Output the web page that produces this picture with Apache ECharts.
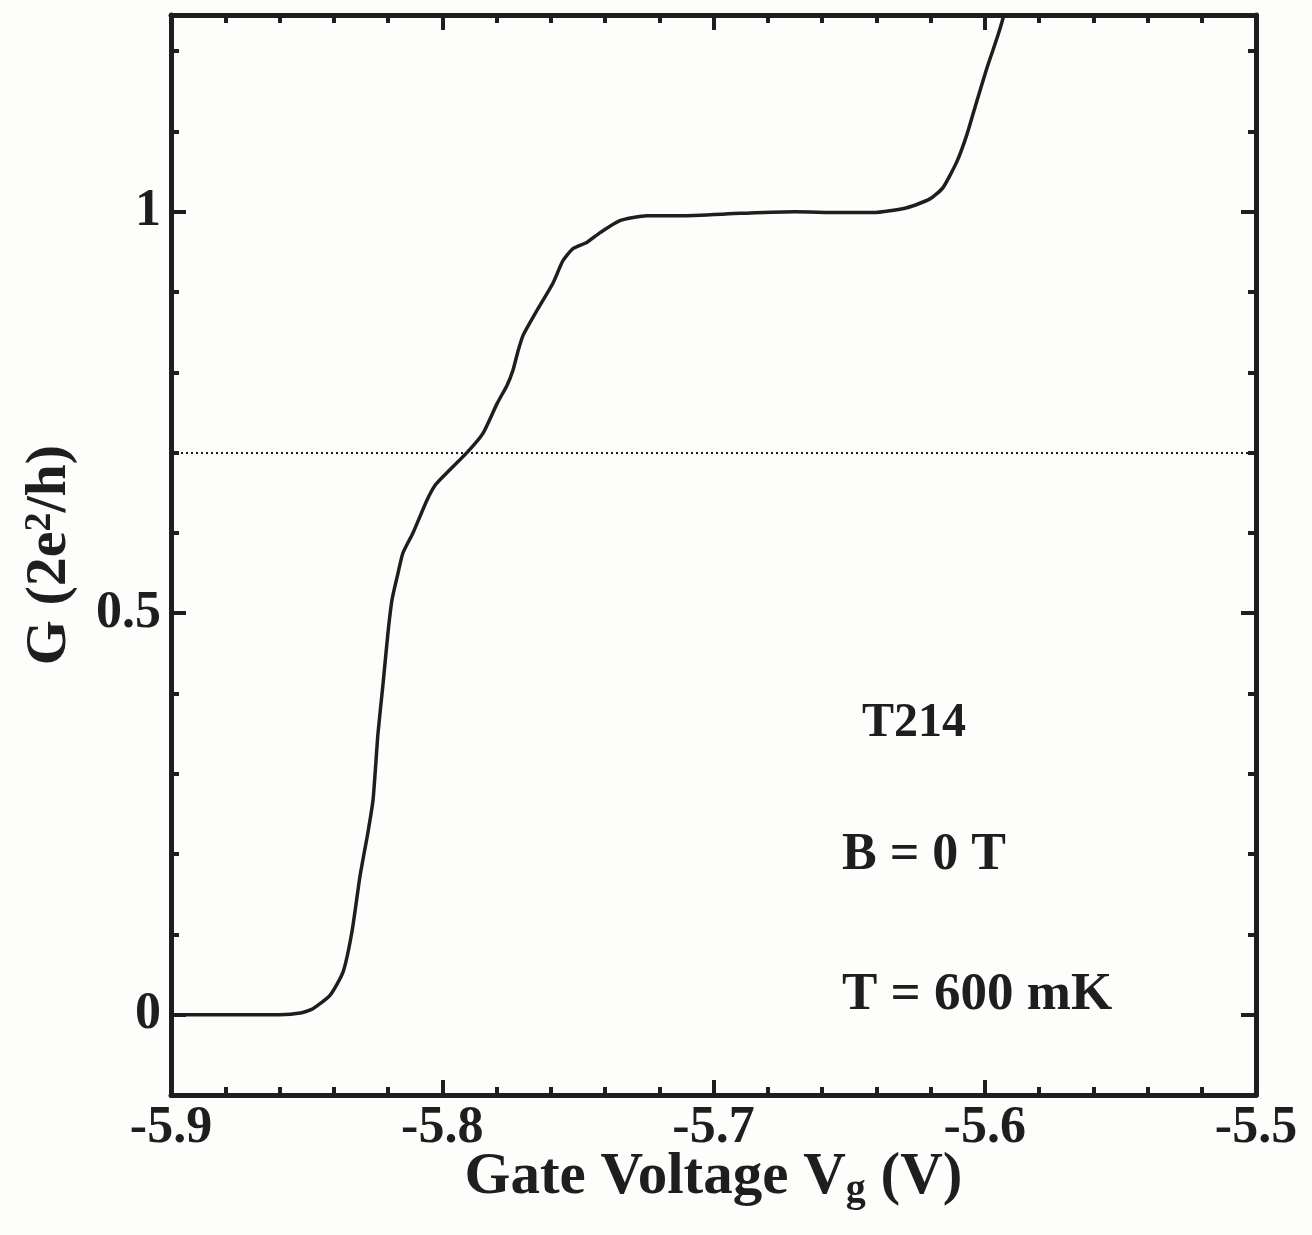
<!DOCTYPE html>
<html>
<head>
<meta charset="utf-8">
<script src="https://cdn.jsdelivr.net/npm/echarts@6/dist/echarts.min.js"></script>
<style>
html,body{margin:0;padding:0;background:#fdfdfb;}
#c{width:1312px;height:1235px;}
</style>
</head>
<body>
<div id="c"></div>
<script>
// Gate voltage (V)
const gateVoltage = [-5.9, -5.88, -5.86, -5.8524, -5.8477, -5.8414, -5.8366, -5.8333, -5.8303, -5.8274,
  -5.8255, -5.8237, -5.8218, -5.82, -5.8185, -5.8163, -5.8145, -5.8108, -5.8056, -5.8025,
  -5.7983, -5.7909, -5.785, -5.7798, -5.7761, -5.7739, -5.7721, -5.7702, -5.7651, -5.7592,
  -5.7555, -5.7518, -5.7466, -5.7418, -5.7345, -5.7245, -5.7124, -5.69, -5.67, -5.6534,
  -5.6412, -5.6287, -5.6202, -5.6154, -5.6102, -5.6065, -5.6029, -5.5992, -5.5955, -5.5936, -5.591];
// Conductance G (2e^2/h)
const conductance = [0, 0, 0, 0.002, 0.0075, 0.024, 0.053, 0.103, 0.173, 0.227,
  0.268, 0.35, 0.413, 0.476, 0.517, 0.55, 0.575, 0.60, 0.641, 0.66,
  0.675, 0.70, 0.724, 0.761, 0.784, 0.803, 0.826, 0.846, 0.877, 0.911,
  0.939, 0.954, 0.962, 0.974, 0.989, 0.995, 0.995, 0.998, 1.0, 0.999,
  0.999, 1.005, 1.016, 1.03, 1.063, 1.097, 1.138, 1.179, 1.216, 1.237, 1.27];
const referenceLevel = 0.7;
const yMajorTicks = [0, 0.5, 1];
const yMinorTicks = [0.1, 0.2, 0.3, 0.4, 0.6, 0.7, 0.8, 0.9, 1.1, 1.2];
const annotations = ['T214', 'B = 0 T', 'T = 600 mK'];

const INK = '#1e1e1e';
const FONT = '"Liberation Serif", "Times New Roman", serif';
const data = gateVoltage.map((v, i) => [v, conductance[i]]);

function xAx(pos, labels, name) {
  return {
    type: 'value', position: pos, min: -5.9, max: -5.5, interval: 0.1,
    axisLine: { show: true, onZero: false, lineStyle: { color: INK, width: 5 } },
    axisTick: { show: true, inside: true, length: 15, lineStyle: { color: INK, width: 4 } },
    minorTick: { show: true, splitNumber: 5, length: 8, lineStyle: { color: INK, width: 4 } },
    splitLine: { show: false }, minorSplitLine: { show: false },
    axisLabel: { show: labels, color: INK, fontFamily: FONT, fontWeight: 'bold', fontSize: 52, margin: 8,
      formatter: v => v.toFixed(1) },
    name: name || '', nameLocation: 'middle', nameGap: 50, nameMoveOverlap: false,
    nameTextStyle: { color: INK, fontFamily: FONT, fontWeight: 'bold', fontSize: 59,
      rich: { sub: { fontFamily: FONT, fontWeight: 'bold', fontSize: 40, color: INK, verticalAlign: 'bottom', padding: [26, 0, 0, 0] } } }
  };
}
function yAx(pos, ticks, len, labels, name, line) {
  return {
    type: 'value', position: pos, min: -0.1, max: 1.245,
    axisLine: { show: line, onZero: false, lineStyle: { color: INK, width: 5 } },
    axisTick: { show: true, inside: true, length: len, customValues: ticks, lineStyle: { color: INK, width: 4 } },
    splitLine: { show: false },
    axisLabel: { show: labels, customValues: ticks, color: INK, fontFamily: FONT, fontWeight: 'bold', fontSize: 52, margin: 10,
      formatter: v => String(v) },
    name: name || '', nameLocation: 'middle', nameGap: 92, nameMoveOverlap: false,
    nameTextStyle: { color: INK, fontFamily: FONT, fontWeight: 'bold', fontSize: 58,
      rich: { sup: { fontFamily: FONT, fontWeight: 'bold', fontSize: 38, color: INK, verticalAlign: 'top', padding: [0, 0, 20, 0] } } }
  };
}

const chart = echarts.init(document.getElementById('c'), null, { renderer: 'canvas' });
chart.setOption({
  backgroundColor: '#fdfdfb',
  animation: false,
  grid: { left: 171, right: 56, top: 15, bottom: 140, containLabel: false },
  xAxis: [ xAx('bottom', true, 'Gate Voltage V{sub|g} (V)'), xAx('top', false) ],
  yAxis: [
    yAx('left', yMajorTicks, 15, true, 'G (2e{sup|2}/h)', true),
    yAx('left', yMinorTicks, 8, false, '', false),
    yAx('right', yMajorTicks, 15, false, '', true),
    yAx('right', yMinorTicks, 8, false, '', false)
  ],
  graphic: [
    { type: 'text', left: 862, top: 700, style: { text: annotations[0], fill: INK, font: 'bold 48px ' + FONT } },
    { type: 'text', left: 842, top: 830, style: { text: annotations[1], fill: INK, font: 'bold 52px ' + FONT } },
    { type: 'text', left: 842, top: 969, style: { text: annotations[2], fill: INK, font: 'bold 53px ' + FONT } }
  ],
  series: [{
    type: 'line', xAxisIndex: 0, yAxisIndex: 0, data: data, showSymbol: false,
    smooth: 0.2, clip: true,
    lineStyle: { color: INK, width: 3.5 },
    markLine: {
      silent: true, symbol: 'none', label: { show: false },
      lineStyle: { color: INK, type: [2, 3], width: 2 },
      data: [{ yAxis: referenceLevel }]
    }
  }]
});
</script>
</body>
</html>
